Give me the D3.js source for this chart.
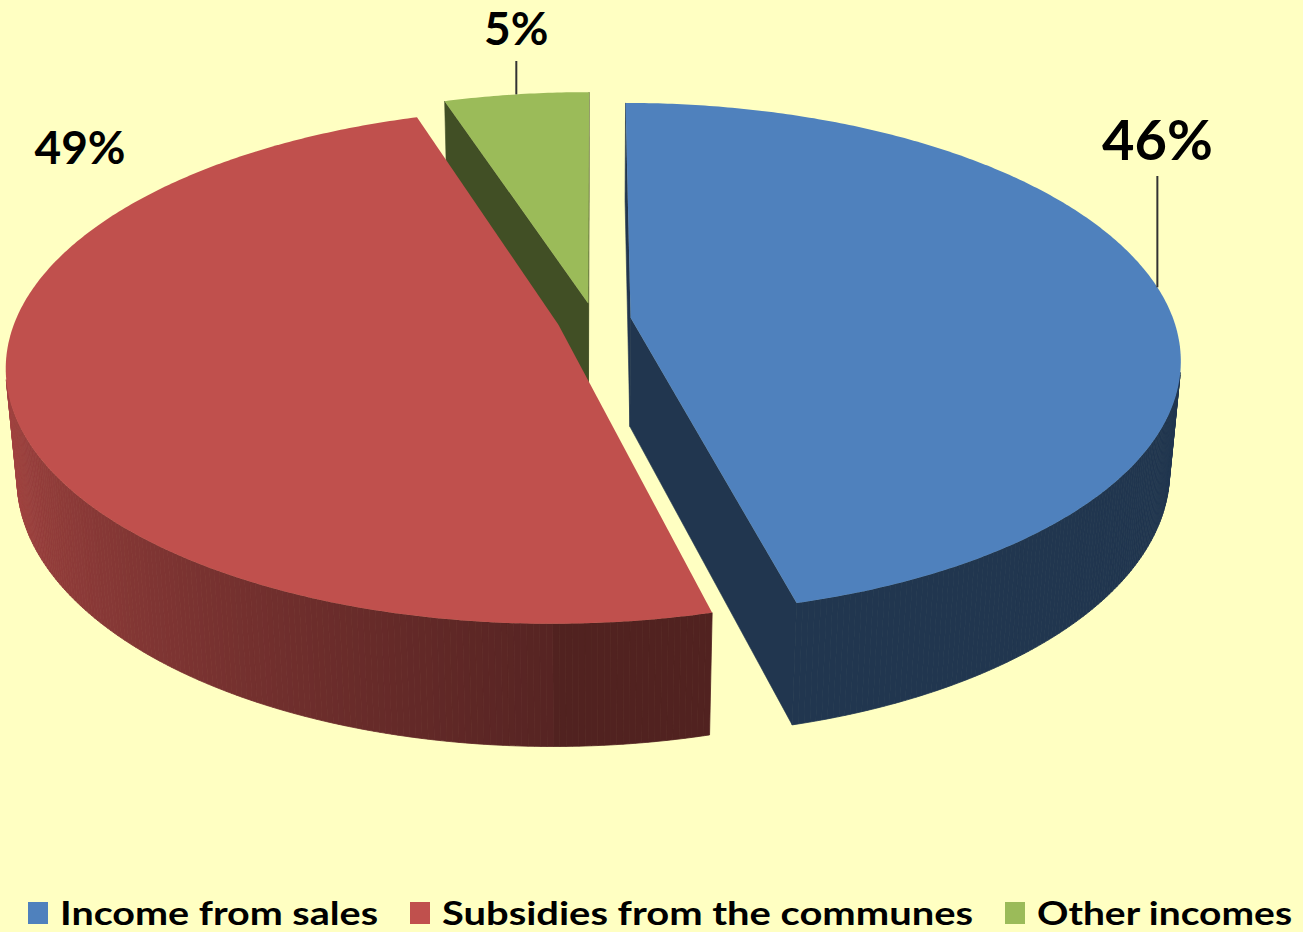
<!DOCTYPE html>
<html>
<head>
<meta charset="utf-8">
<script src="https://cdn.jsdelivr.net/npm/d3@7"></script>
<style>
  body { margin: 0; background: #FFFFC2; }
  svg { display: block; }
  text { font-family: Lato, "Open Sans", sans-serif; font-weight: bold; fill: #000; }
</style>
</head>
<body>
<div id="chart"></div>
<script>
// Chart data
const categories = ['Income from sales', 'Subsidies from the communes', 'Other incomes'];
const values = [46, 49, 5];
const labels = ['46%', '49%', '5%'];
const colors = ['#4F81BD', '#C0504D', '#9BBB59'];

const width = 1303;
const height = 932;

// 3D view settings
const cx = 594, cy = 320;
const dist = 5.58, f = 3030;
const sinT = 0.46, cosT = Math.sqrt(1 - sinT * sinT);
const thick = 0.23;
const explode = 0.068;

// label placement (screen)
const labelPos = [{x: 1157, y: 160, size: 56, leader: true},
                  {x: 80, y: 164, size: 46, leader: false},
                  {x: 519, y: 45, size: 46, leader: true}];

function project(X, Y, Z) {
    const D = dist + Y * cosT - Z * sinT;
    const U = Y * sinT + Z * cosT;
    return [cx + f * X / D, cy - f * U / D];
}
const cam = [0, -dist * cosT, dist * sinT];

const svg = d3.select('#chart')
    .append('svg')
    .attr('width', width)
    .attr('height', height);

svg.append('rect').attr('width', width).attr('height', height).attr('fill', '#FFFFC2');

const pie = d3.pie().sort(null).value(d => d.value);
const arcs = pie(categories.map((c, i) => ({name: c, value: values[i], color: colors[i], i: i})));

const line = d3.line();

function shade(color, k) {
    return d3.interpolateRgb(color, '#000')(1 - k);
}
function wallFactor(a) {
    if (a <= Math.PI) return 0.42;
    return Math.min(0.92, 0.45 + (a - Math.PI) / (Math.PI / 2) * 0.47);
}
function facing(P, n) {
    return (cam[0] - P[0]) * n[0] + (cam[1] - P[1]) * n[1] + (cam[2] - P[2]) * n[2] > 0;
}

arcs.forEach(d => {
    const mid = (d.startAngle + d.endAngle) / 2;
    d.ox = explode * Math.sin(mid);
    d.oy = explode * Math.cos(mid);
    d.mid = mid;
});

// back to front
const order = arcs.slice().sort((a, b) => (b.oy + 0.5 * Math.cos(b.mid)) - (a.oy + 0.5 * Math.cos(a.mid)));

const gPie = svg.append('g');

order.forEach(d => {
    const pt = (a, r, z) => project(d.ox + r * Math.sin(a), d.oy + r * Math.cos(a), z);
    const a0 = d.startAngle, a1 = d.endAngle;
    const g = gPie.append('g');
    const base = d.data.color;
    const dark = shade(base, 0.42);

    // cut faces
    const cuts = [
        {a: a0, n: [-Math.cos(a0), Math.sin(a0), 0]},
        {a: a1, n: [Math.cos(a1), -Math.sin(a1), 0]}
    ];
    cuts.forEach(c => {
        if (!facing([d.ox, d.oy, 0], c.n)) return;
        const poly = [pt(0, 0, 0), pt(c.a, 1, 0), pt(c.a, 1, -thick), pt(0, 0, -thick)];
        g.append('path').attr('d', line(poly) + 'Z')
            .attr('fill', dark).attr('stroke', dark).attr('stroke-width', 0.6);
    });

    // outer wall
    const steps = Math.max(4, Math.ceil((a1 - a0) / 0.01));
    const segs = [];
    for (let k = 0; k < steps; k++) {
        const s0 = a0 + (a1 - a0) * k / steps;
        const s1 = a0 + (a1 - a0) * (k + 1) / steps;
        const sm = (s0 + s1) / 2;
        const n = [Math.sin(sm), Math.cos(sm), 0];
        const P = [d.ox + n[0], d.oy + n[1], 0];
        if (!facing(P, n)) continue;
        segs.push({s0, s1, sm, y: P[1]});
    }
    segs.sort((a, b) => b.y - a.y);
    segs.forEach(s => {
        const col = shade(base, wallFactor(s.sm));
        const poly = [pt(s.s0, 1, 0), pt(s.s1, 1, 0), pt(s.s1, 1, -thick), pt(s.s0, 1, -thick)];
        g.append('path').attr('d', line(poly) + 'Z')
            .attr('fill', col).attr('stroke', col).attr('stroke-width', 0.8);
    });

    // top face
    const top = [pt(0, 0, 0)];
    for (let k = 0; k <= steps; k++) top.push(pt(a0 + (a1 - a0) * k / steps, 1, 0));
    g.append('path').attr('d', line(top) + 'Z').attr('fill', base);
});

// data labels
arcs.forEach(d => {
    const lp = labelPos[d.index];
    if (lp.leader) {
        const p = project(d.ox + Math.sin(d.mid), d.oy + Math.cos(d.mid), 0);
        svg.append('line')
            .attr('x1', p[0]).attr('y1', p[1])
            .attr('x2', p[0]).attr('y2', lp.y + 16)
            .attr('stroke', '#333').attr('stroke-width', 2);
        lp.x = p[0];
    }
    svg.append('text')
        .attr('x', lp.x).attr('y', lp.y)
        .attr('text-anchor', 'middle')
        .attr('font-size', lp.size)
        .text(labels[d.index]);
});

// legend
const legendX = [28, 410, 1005];
const legendW = [318, 531, 255];
const legend = svg.append('g');
categories.forEach((c, i) => {
    legend.append('rect')
        .attr('x', legendX[i]).attr('y', 902)
        .attr('width', 20).attr('height', 22)
        .attr('fill', colors[i]);
    legend.append('text')
        .attr('x', legendX[i] + 32).attr('y', 925)
        .attr('font-size', 33)
        .attr('textLength', legendW[i])
        .attr('lengthAdjust', 'spacingAndGlyphs')
        .text(c);
});
</script>
</body>
</html>
